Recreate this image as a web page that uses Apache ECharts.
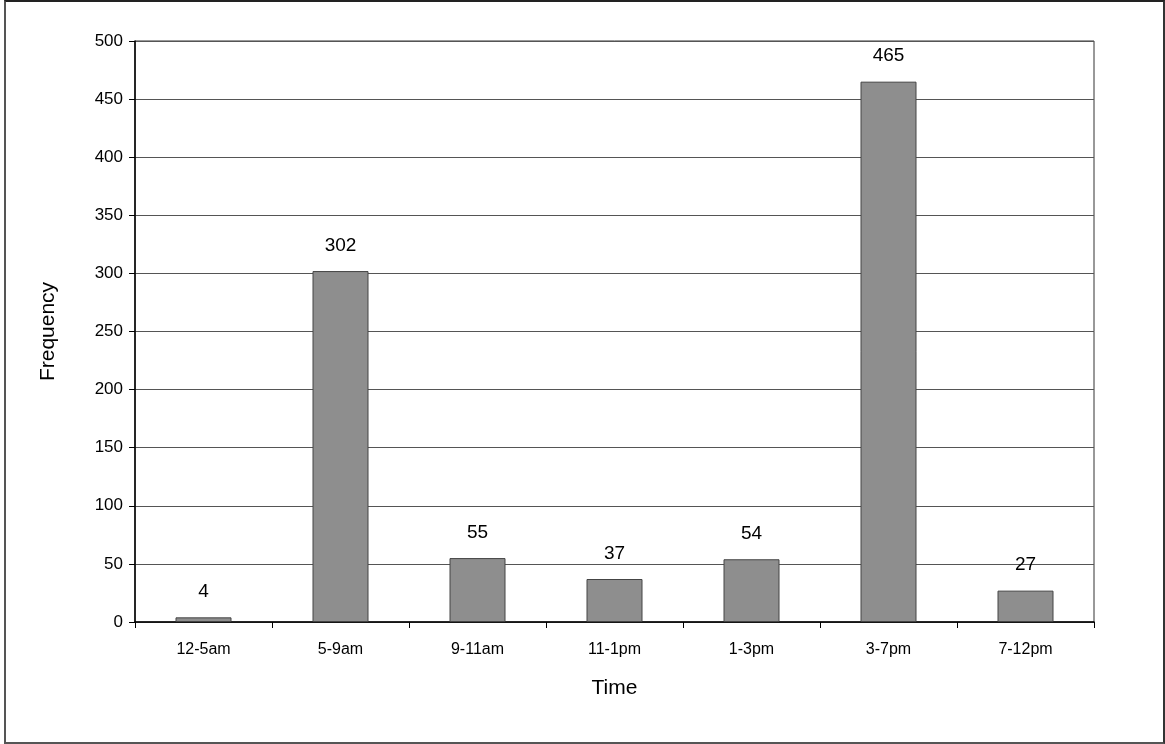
<!DOCTYPE html>
<html>
<head>
<meta charset="utf-8">
<script src="https://cdn.jsdelivr.net/npm/echarts@6/dist/echarts.min.js"></script>
<style>
  html, body { margin: 0; padding: 0; background: #fff; }
  #frame {
    position: absolute; left: 4px; top: 0; width: 1157px; height: 740px;
    border-top: 2px solid #222; border-left: 2px solid #555;
    border-right: 2px solid #333; border-bottom: 2px solid #555;
  }
  #chart { width: 1165px; height: 744px; position: absolute; left: 0; top: 0; }
</style>
</head>
<body>
<div id="frame"></div>
<div id="chart"></div>
<script>
// time slots and counts
var categories = ["12-5am", "5-9am", "9-11am", "11-1pm", "1-3pm", "3-7pm", "7-12pm"];
var frequency = [4, 302, 55, 37, 54, 465, 27];

var myChart = echarts.init(document.getElementById("chart"));

var option = {
  animation: false,
  textStyle: { fontFamily: "Liberation Sans, Arial, sans-serif" },
  grid: {
    left: 135, right: 71, top: 41, bottom: 122,
    show: true, borderColor: "#333", borderWidth: 1
  },
  xAxis: {
    type: "category",
    data: categories,
    name: "Time",
    nameLocation: "middle",
    nameGap: 56,
    nameTextStyle: { color: "#000", fontSize: 21 },
    axisLine: { lineStyle: { color: "#000", width: 1.5 } },
    axisTick: { show: true, length: 6, lineStyle: { color: "#000" } },
    axisLabel: { color: "#000", fontSize: 16, margin: 20 }
  },
  yAxis: {
    type: "value",
    min: 0, max: 500, interval: 50,
    name: "Frequency",
    nameLocation: "middle",
    nameGap: 76,
    nameTextStyle: { color: "#000", fontSize: 21 },
    axisLine: { show: true, lineStyle: { color: "#000", width: 1.5 } },
    axisTick: { show: true, length: 6, lineStyle: { color: "#000" } },
    axisLabel: { color: "#000", fontSize: 17, margin: 12 },
    splitLine: { lineStyle: { color: "#555", width: 1.2 } }
  },
  series: [
    {
      type: "bar",
      data: frequency,
      barWidth: 56,
      itemStyle: {
        color: "#8e8e8e",
        borderColor: "#444",
        borderWidth: 1
      },
      label: {
        show: true,
        position: "top",
        distance: 16,
        color: "#000",
        fontSize: 19
      }
    }
  ]
};

myChart.setOption(option);
</script>
</body>
</html>
